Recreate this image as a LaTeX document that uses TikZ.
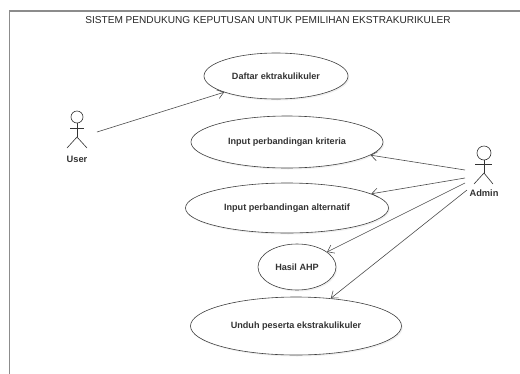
\documentclass[tikz,border=0pt]{standalone}
\usepackage{fontspec}
\setmainfont{Liberation Sans}
\usetikzlibrary{shapes.geometric,arrows.meta,shadows}

\tikzset{
  usecase/.style={ellipse, draw=black!75, fill=white, line width=0.6pt, inner sep=0pt,
    text=black!80, font=\bfseries\fontsize{9.1}{11}\selectfont,
    drop shadow={shadow xshift=1.2pt, shadow yshift=-1.5pt, opacity=0.12}},
  assoc/.style={draw=black!70, line width=0.6pt, -{Straight Barb[length=6pt,width=9pt]}},
  stick/.style={draw=black!80, line width=0.6pt},
  actorname/.style={text=black!80, font=\bfseries\fontsize{9.3}{11}\selectfont},
}

\begin{document}
\begin{tikzpicture}[x=1pt,y=-1pt]  % 1pt = 1 pixel of the reference

    \useasboundingbox (0,0) rectangle (520,373);
    \clip (0,0) rectangle (520,373);

    % system boundary
    \draw[black!45, line width=1.4pt] (9.5,400) -- (9.5,11) -- (540,11);
    \node[text=black!85, font=\fontsize{10.1}{12}\selectfont] (title) at (268,20)
        {SISTEM PENDUKUNG KEPUTUSAN UNTUK PEMILIHAN EKSTRAKURIKULER};

    % use cases
    \node[usecase, minimum width=144pt, minimum height=46pt] (daftar) at (276,76) {Daftar ektrakulikuler};
    \node[usecase, minimum width=192pt, minimum height=52pt] (kriteria) at (287,142) {Input perbandingan kriteria};
    \node[usecase, minimum width=203pt, minimum height=50pt] (alternatif) at (287,208) {Input perbandingan alternatif};
    \node[usecase, minimum width=78pt, minimum height=46pt] (hasil) at (297,267) {Hasil AHP};
    \node[usecase, minimum width=211pt, minimum height=58pt] (unduh) at (296,326) {Unduh peserta ekstrakulikuler};

    % actor User
    \draw[stick] (77,117) circle (6); % kepala
    \draw[stick] (77,123) -- (77,137); % badan
    \draw[stick] (70,128) -- (84,128); % tangan
    \draw[stick] (67,148) -- (77,137) -- (87,148); % kaki
    \node[actorname] (user) at (77,159) {User};
    \coordinate (userhand) at (97,132);

    % actor Admin
    \draw[stick] (484,153) circle (7); % kepala
    \draw[stick] (484,160) -- (484,173); % badan
    \draw[stick] (475,164) -- (492,164); % tangan
    \draw[stick] (474,184) -- (484,173) -- (493,184); % kaki
    \node[actorname] (admin) at (484,193) {Admin};
    \coordinate (a1) at (465,170);
    \coordinate (a2) at (465,178);
    \coordinate (a3) at (465,183);
    \coordinate (a4) at (467,190);

    % associations
    \draw[assoc] (userhand) -- (daftar);
    \draw[assoc] (a1) -- (kriteria);
    \draw[assoc] (a2) -- (alternatif);
    \draw[assoc] (a3) -- (hasil);
    \draw[assoc] (a4) -- (unduh);

\end{tikzpicture}
\end{document}
